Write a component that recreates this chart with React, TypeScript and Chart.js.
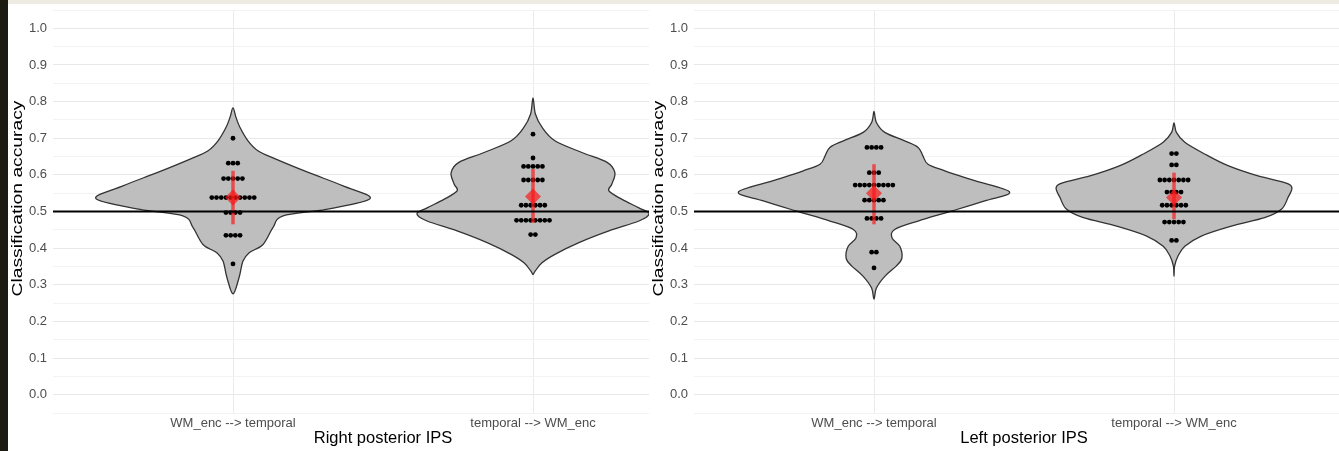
import React, { useEffect, useRef } from 'react';
import { Chart, registerables } from 'chart.js';

Chart.register(...registerables);

const FONT = "'Liberation Sans', Arial, Helvetica, sans-serif";

// Categories and labels
const directions = ['WM_enc --> temporal', 'temporal --> WM_enc'];
const regionNames = ['Right posterior IPS', 'Left posterior IPS'];
const yAxisTitle = 'Classification accuracy';
const chanceLevel = 0.5;

// Y axis ticks (major labelled, minor unlabelled)
const yMajorTicks = [0, 0.1, 0.2, 0.3, 0.4, 0.5, 0.6, 0.7, 0.8, 0.9, 1.0];
const yTickLabels = ['0.0', '0.1', '0.2', '0.3', '0.4', '0.5', '0.6', '0.7', '0.8', '0.9', '1.0'];
const yMinorTicks = [-0.05, 0.05, 0.15, 0.25, 0.35, 0.45, 0.55, 0.65, 0.75, 0.85, 0.95, 1.05];

// Per-subject accuracies (binned as in the dot plot)
const rightWmTemporal = [
  0.357, 0.435, 0.435, 0.435, 0.435, 0.497, 0.497, 0.497, 0.497,
  0.538, 0.538, 0.538, 0.538, 0.538, 0.538, 0.538, 0.538, 0.538, 0.538,
  0.59, 0.59, 0.59, 0.59, 0.59, 0.632, 0.632, 0.632, 0.7,
];
const rightTemporalWm = [
  0.437, 0.437, 0.476, 0.476, 0.476, 0.476, 0.476, 0.476, 0.476, 0.476,
  0.517, 0.517, 0.517, 0.517, 0.517, 0.517, 0.586, 0.586, 0.586, 0.586, 0.586,
  0.623, 0.623, 0.623, 0.623, 0.623, 0.646, 0.711,
];
const leftWmTemporal = [
  0.346, 0.389, 0.389, 0.481, 0.481, 0.481, 0.481, 0.531, 0.531, 0.531, 0.531, 0.531,
  0.572, 0.572, 0.572, 0.572, 0.572, 0.572, 0.572, 0.572, 0.572,
  0.606, 0.606, 0.606, 0.675, 0.675, 0.675, 0.675,
];
const leftTemporalWm = [
  0.421, 0.421, 0.471, 0.471, 0.471, 0.471, 0.471, 0.517, 0.517, 0.517, 0.517, 0.517, 0.517,
  0.553, 0.553, 0.553, 0.553, 0.586, 0.586, 0.586, 0.586, 0.586, 0.586, 0.586,
  0.627, 0.627, 0.658, 0.658,
];

// Violin outlines: accuracy levels (bottom to top) and half-widths in category units
const rightWmTemporalLevels = [0.275, 0.319, 0.364, 0.387, 0.41, 0.456, 0.488, 0.506, 0.535, 0.57, 0.606, 0.643, 0.666, 0.693, 0.73, 0.757, 0.783];
const rightWmTemporalWidths = [0, 0.02, 0.033, 0.053, 0.1, 0.133, 0.167, 0.31, 0.457, 0.367, 0.253, 0.143, 0.083, 0.05, 0.023, 0.01, 0];

const rightTemporalWmLevels = [0.328, 0.337, 0.36, 0.383, 0.415, 0.447, 0.474, 0.494, 0.51, 0.533, 0.556, 0.575, 0.606, 0.634, 0.661, 0.693, 0.73, 0.766, 0.81];
const rightTemporalWmWidths = [0, 0.007, 0.03, 0.073, 0.153, 0.253, 0.353, 0.387, 0.353, 0.297, 0.253, 0.263, 0.273, 0.247, 0.163, 0.073, 0.03, 0.008, 0];

const leftWmTemporalLevels = [0.261, 0.291, 0.323, 0.351, 0.373, 0.405, 0.428, 0.451, 0.474, 0.501, 0.529, 0.553, 0.584, 0.611, 0.629, 0.652, 0.675, 0.693, 0.716, 0.743, 0.773];
const leftWmTemporalWidths = [0, 0.008, 0.036, 0.074, 0.093, 0.086, 0.06, 0.069, 0.147, 0.258, 0.369, 0.452, 0.336, 0.236, 0.18, 0.163, 0.147, 0.102, 0.036, 0.008, 0];

const leftTemporalWmLevels = [0.323, 0.351, 0.378, 0.405, 0.433, 0.46, 0.483, 0.506, 0.538, 0.565, 0.579, 0.597, 0.625, 0.657, 0.689, 0.716, 0.742];
const leftTemporalWmWidths = [0, 0.002, 0.013, 0.036, 0.091, 0.191, 0.302, 0.358, 0.38, 0.393, 0.369, 0.28, 0.18, 0.102, 0.036, 0.008, 0];

// Group means with their intervals, per direction
const rightMeans = [0.538, 0.541];
const rightLows = [0.465, 0.469];
const rightHighs = [0.611, 0.616];
const leftMeans = [0.55, 0.538];
const leftLows = [0.465, 0.479];
const leftHighs = [0.629, 0.606];

type Group = {
  dots: number[];
  levels: number[];
  widths: number[];
  mean: number;
  low: number;
  high: number;
};

const DOT_STEP = 0.0157; // horizontal spacing of stacked dots, category units
const RED = 'rgba(250, 20, 20, 0.68)';

function stackDots(values: number[], center: number) {
  const counts = new Map<number, number>();
  values.forEach((v) => counts.set(v, (counts.get(v) || 0) + 1));
  const pts: { x: number; y: number }[] = [];
  counts.forEach((n, v) => {
    for (let i = 0; i < n; i++) pts.push({ x: center + (i - (n - 1) / 2) * DOT_STEP, y: v });
  });
  return pts;
}

function makeViolinPlugin(groups: Group[]) {
  return {
    id: 'violins',
    beforeDatasetsDraw(chart: any) {
      const { ctx, chartArea, scales } = chart;
      const xs = scales.x;
      const ys = scales.y;
      ctx.save();
      ctx.beginPath();
      ctx.rect(chartArea.left, chartArea.top, chartArea.right - chartArea.left, chartArea.bottom - chartArea.top);
      ctx.clip();
      groups.forEach((g, i) => {
        const c = i + 1;
        const n = g.levels.length;
        const pts: number[][] = [];
        for (let k = 0; k < n; k++) pts.push([xs.getPixelForValue(c + g.widths[k]), ys.getPixelForValue(g.levels[k])]);
        for (let k = n - 2; k >= 1; k--) pts.push([xs.getPixelForValue(c - g.widths[k]), ys.getPixelForValue(g.levels[k])]);
        const m = pts.length;
        ctx.beginPath();
        ctx.moveTo(pts[0][0], pts[0][1]);
        for (let k = 0; k < m; k++) {
          const p0 = pts[(k - 1 + m) % m];
          const p1 = pts[k];
          const p2 = pts[(k + 1) % m];
          const p3 = pts[(k + 2) % m];
          ctx.bezierCurveTo(
            p1[0] + (p2[0] - p0[0]) / 6, p1[1] + (p2[1] - p0[1]) / 6,
            p2[0] - (p3[0] - p1[0]) / 6, p2[1] - (p3[1] - p1[1]) / 6,
            p2[0], p2[1]
          );
        }
        ctx.closePath();
        ctx.fillStyle = '#bebebe';
        ctx.fill();
        ctx.strokeStyle = '#333333';
        ctx.lineWidth = 1.3;
        ctx.lineJoin = 'round';
        ctx.stroke();
      });
      ctx.restore();
    },
  };
}

const yTitlePlugin = {
  id: 'yTitle',
  afterDraw(chart: any) {
    const { ctx, chartArea } = chart;
    ctx.save();
    ctx.translate(chartArea.left - 35, (chartArea.top + chartArea.bottom) / 2 - 13);
    ctx.rotate(-Math.PI / 2);
    ctx.font = `15.5px ${FONT}`;
    const w = ctx.measureText(yAxisTitle).width;
    ctx.scale(196 / w, 1);
    ctx.fillStyle = '#000000';
    ctx.textAlign = 'center';
    ctx.textBaseline = 'middle';
    ctx.fillText(yAxisTitle, 0, 0);
    ctx.restore();
  },
};

function isMajor(v: number) {
  return yMajorTicks.some((t) => Math.abs(t - v) < 1e-6);
}

function Panel({ title, groups }: { title: string; groups: Group[] }) {
  const ref = useRef<HTMLCanvasElement | null>(null);

  useEffect(() => {
    if (!ref.current) return;
    const dots = groups.flatMap((g, i) => stackDots(g.dots, i + 1));
    const bars = groups.map((g, i) => ({
      data: [{ x: i + 1, y: g.low }, { x: i + 1, y: g.high }],
      showLine: true,
      borderColor: RED,
      borderWidth: 3.5,
      borderCapStyle: 'butt',
      pointRadius: 0,
      order: 2,
    }));
    const yTicks = [...yMajorTicks, ...yMinorTicks].sort((a, b) => a - b);

    const chart = new Chart(ref.current, {
      type: 'scatter',
      data: {
        datasets: [
          {
            data: [{ x: 0.4, y: chanceLevel }, { x: 2.6, y: chanceLevel }],
            showLine: true,
            borderColor: '#000000',
            borderWidth: 2,
            pointRadius: 0,
            order: 0,
          },
          {
            data: groups.map((g, i) => ({ x: i + 1, y: g.mean })),
            pointStyle: 'rectRot',
            pointRadius: 8,
            backgroundColor: RED,
            borderWidth: 0,
            order: 1,
          },
          ...bars,
          {
            data: dots,
            pointRadius: 2.4,
            backgroundColor: '#000000',
            borderWidth: 0,
            order: 3,
          },
        ] as any,
      },
      options: {
        responsive: false,
        animation: false,
        events: [],
        layout: { padding: { top: 6, left: 0, right: 0, bottom: 0 }, autoPadding: false },
        plugins: { legend: { display: false }, tooltip: { enabled: false } },
        scales: {
          x: {
            type: 'linear',
            min: 0.4,
            max: 2.6,
            afterBuildTicks: (s: any) => {
              s.ticks = [{ value: 1 }, { value: 2 }];
            },
            afterFit: (s: any) => {
              s.height = 38;
              s.paddingLeft = 0;
              s.paddingRight = 0;
            },
            ticks: {
              autoSkip: false,
              maxRotation: 0,
              padding: 3,
              color: '#4d4d4d',
              font: { family: FONT, size: 13 },
              callback: (v: any) => directions[Math.round(Number(v)) - 1] ?? '',
            },
            grid: { color: '#ebebeb', lineWidth: 1, drawTicks: false },
            border: { display: false },
            title: {
              display: true,
              text: title,
              color: '#000000',
              font: { family: FONT, size: 16.5 },
              padding: { top: 0, bottom: 2.5 },
            },
          },
          y: {
            type: 'linear',
            min: -0.05,
            max: 1.05,
            afterBuildTicks: (s: any) => {
              s.ticks = yTicks.map((v) => ({ value: v }));
            },
            afterFit: (s: any) => {
              s.width = 45;
              s.paddingTop = 0;
              s.paddingBottom = 0;
            },
            ticks: {
              autoSkip: false,
              padding: 6,
              color: '#4d4d4d',
              font: { family: FONT, size: 13 },
              callback: (v: any) => {
                const i = yMajorTicks.findIndex((t) => Math.abs(t - Number(v)) < 1e-6);
                return i >= 0 ? yTickLabels[i] : '';
              },
            },
            grid: {
              color: (ctx: any) => (isMajor(ctx.tick?.value ?? 0) ? '#e8e8e8' : '#f3f3f3'),
              lineWidth: 1,
              drawTicks: false,
            },
            border: { display: false },
          },
        },
      } as any,
      plugins: [makeViolinPlugin(groups), yTitlePlugin],
    });
    return () => chart.destroy();
  }, [title, groups]);

  return <canvas ref={ref} width={705} height={447} style={{ display: 'block' }} />;
}

const rightGroups: Group[] = [
  { dots: rightWmTemporal, levels: rightWmTemporalLevels, widths: rightWmTemporalWidths, mean: rightMeans[0], low: rightLows[0], high: rightHighs[0] },
  { dots: rightTemporalWm, levels: rightTemporalWmLevels, widths: rightTemporalWmWidths, mean: rightMeans[1], low: rightLows[1], high: rightHighs[1] },
];
const leftGroups: Group[] = [
  { dots: leftWmTemporal, levels: leftWmTemporalLevels, widths: leftWmTemporalWidths, mean: leftMeans[0], low: leftLows[0], high: leftHighs[0] },
  { dots: leftTemporalWm, levels: leftTemporalWmLevels, widths: leftTemporalWmWidths, mean: leftMeans[1], low: leftLows[1], high: leftHighs[1] },
];

export default function App() {
  return (
    <div
      style={{
        position: 'fixed',
        left: 0,
        top: 0,
        width: 1339,
        height: 451,
        overflow: 'hidden',
        background: '#ffffff',
      }}
    >
      <div style={{ position: 'absolute', left: 0, top: 0, width: 8, height: 451, background: '#1b1b12' }} />
      <div style={{ position: 'absolute', left: 8, top: 0, width: 1331, height: 4, background: '#eeebe3' }} />
      <div style={{ position: 'absolute', left: 8, top: 4, width: 641, height: 447, overflow: 'hidden' }}>
        <Panel title={regionNames[0]} groups={rightGroups} />
      </div>
      <div style={{ position: 'absolute', left: 649, top: 4, width: 690, height: 447, overflow: 'hidden', background: '#ffffff' }}>
        <Panel title={regionNames[1]} groups={leftGroups} />
      </div>
    </div>
  );
}
